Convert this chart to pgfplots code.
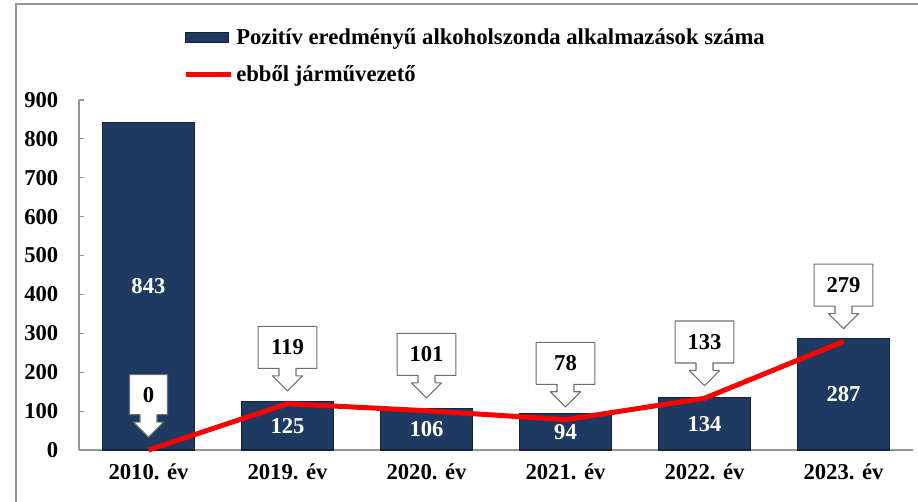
\documentclass[border=0pt]{standalone}
\usepackage{fontspec}
\setmainfont{Liberation Serif}
\usepackage{pgfplots}
\pgfplotsset{compat=1.18}
\usetikzlibrary{shapes.arrows}
\definecolor{navy}{RGB}{31,58,96}
\definecolor{navyedge}{RGB}{18,34,60}
\definecolor{axgray}{RGB}{150,150,150}
\definecolor{boxgray}{RGB}{110,110,110}
\begin{document}
\begin{tikzpicture}[font=\fontsize{17}{20}\selectfont\bfseries]
\useasboundingbox (-59.25pt,-39pt) rectangle (629.25pt,337.5pt);
\draw[axgray, line width=0.8pt] (-47.25pt,-39pt) -- (-47.25pt,334.5pt) -- (629.25pt,334.5pt);
\begin{axis}[
  at={(0pt,0pt)}, anchor=south west,
  scale only axis, width=625.5pt, height=262.5pt,
  xmin=-0.5, xmax=5.5, ymin=0, ymax=900,
  xtick={0,1,2,3,4,5},
  xticklabels={2010. év, 2019. év, 2020. év, 2021. év, 2022. év, 2023. év},
  ytick={0,100,...,900},
  axis x line*=bottom, axis y line*=left,
  axis line style={axgray, line width=1pt, -},
  x tick style={draw=none},
  y tick style={axgray, line width=0.8pt},
  major tick length=4pt, tick align=inside,
  /pgf/number format/assume math mode=true,
  ticklabel style={font=\fontsize{17}{20}\selectfont\bfseries},
  yticklabel style={xshift=-12pt},
  xticklabel style={yshift=-7pt},
  clip=false,
  legend style={draw=none, fill=none, at={(0.1247,1.212)}, anchor=north west,
    row sep=10pt, inner xsep=0pt, inner ysep=0pt,
    font=\fontsize{17}{20}\selectfont\bfseries,
    nodes={inner xsep=2pt}},
  legend cell align=left,
]
\addplot[ybar, bar width=69pt, fill=navy, draw=navyedge, line width=0.8pt,
  legend image code/.code={\draw[fill=navy,draw=navyedge] (0pt,-3.75pt) rectangle (32pt,3.75pt);},
  visualization depends on={y \as \rawy},
  nodes near coords,
  every node near coord/.append style={white, anchor=center,
    font=\fontsize{17}{20}\selectfont\bfseries,
    shift={(axis direction cs:0,-\rawy/2)}},
] coordinates {(0,843) (1,125) (2,106) (3,94) (4,134) (5,287)};
\addlegendentry{Pozitív eredményű alkoholszonda alkalmazások száma}
\addplot[red, line width=3.75pt, line join=round, mark=none,
  legend image code/.code={\draw[red, line width=3.75pt] (0pt,0pt) -- (34pt,0pt);},
  visualization depends on={x \as \rawx},
  nodes near coords,
  every node near coord/.style={arrow box, draw=boxgray, line width=0.8pt, fill=white, text=black,
    font=\fontsize{17}{20}\selectfont\bfseries,
    arrow box arrows={south:16.5pt}, arrow box shaft width=12.75pt,
    arrow box head extend=5pt, arrow box head indent=0pt,
    minimum width={ifthenelse(\rawx<0.5,28.5,44)},
    minimum height={ifthenelse(\rawx<0.5,30,31.5)}, inner sep=0pt,
    anchor=south arrow tip, yshift=9pt},
] coordinates {(0,0) (1,119) (2,101) (3,78) (4,133) (5,279)};
\addlegendentry{ebből járművezető}
\end{axis}
\end{tikzpicture}
\end{document}
